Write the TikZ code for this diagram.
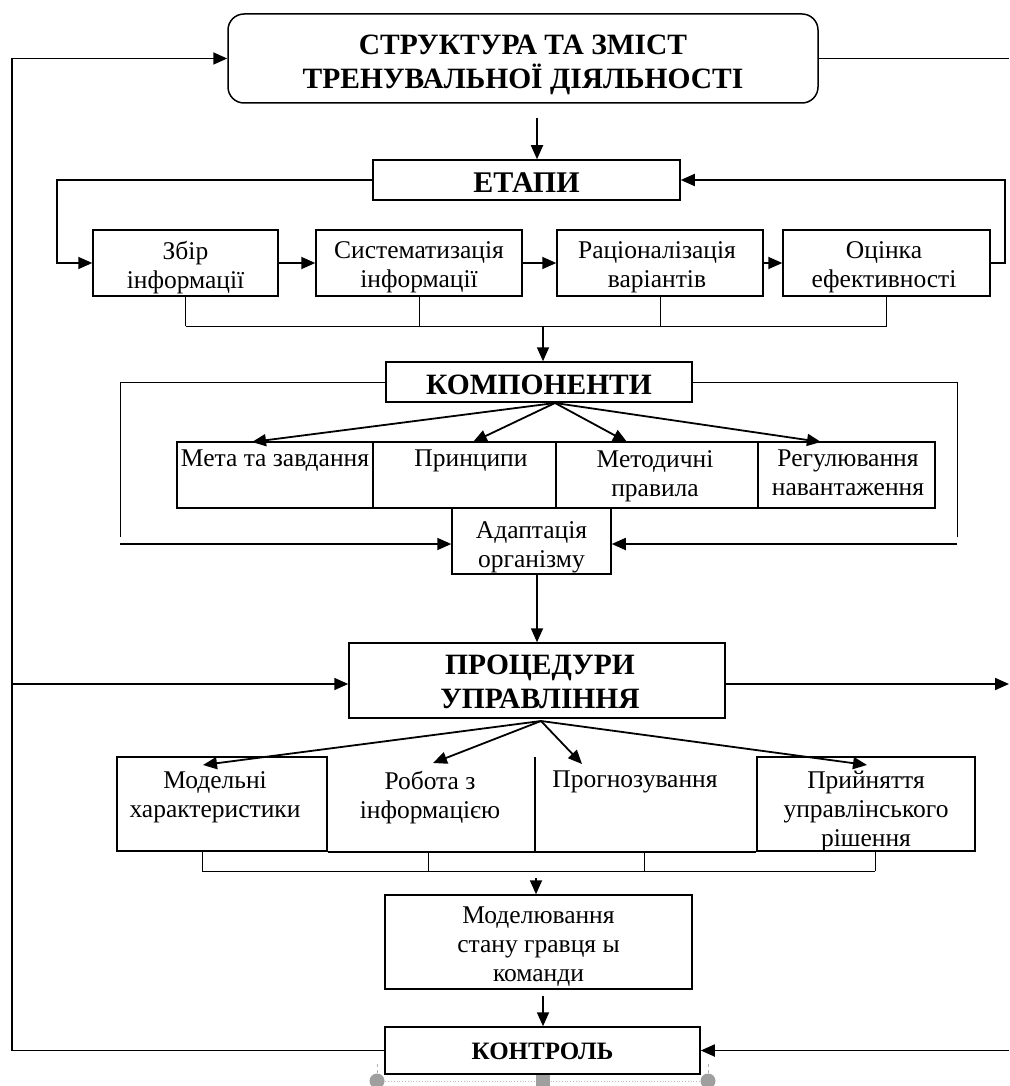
\documentclass[tikz,border=0pt]{standalone}
\usepackage{fontspec}
\setmainfont{Liberation Serif}
\usetikzlibrary{arrows.meta}
\begin{document}
\begin{tikzpicture}[x=1pt,y=-1pt,
  box/.style={draw, line width=1.5pt, inner sep=0pt},
  reg/.style={font=\fontsize{25.5}{29}\selectfont, align=center, inner sep=0pt},
  ttl/.style={font=\fontsize{29.5}{34}\selectfont\bfseries, align=center, inner sep=0pt},
  arr/.style={line width=1.8pt, -{Triangle[length=14pt,width=12pt]}},
  ln/.style={line width=1.5pt},
  bus/.style={line width=0.8pt},
  handle/.style={fill=gray!75, draw=none},
]
\useasboundingbox (0,0) rectangle (1009,1086);

% ---------- boxes ----------
\node[box, rounded corners=16pt, minimum width=590pt, minimum height=89pt] (top) at (523,58.5) {};
\node[ttl] (topT) at (523,65) {СТРУКТУРА ТА ЗМІСТ\\ТРЕНУВАЛЬНОЇ ДІЯЛЬНОСТІ};
\node[box, minimum width=307pt, minimum height=40pt] (etapy) at (526.5,180) {};
\node[ttl, font=\fontsize{30}{34}\selectfont\bfseries] (etapyT) at (526.5,183) {ЕТАПИ};

\node[box, minimum width=185pt, minimum height=66pt] (zbir) at (185.5,263) {};
\node[box, minimum width=206pt, minimum height=66pt] (syst) at (419,263) {};
\node[box, minimum width=206pt, minimum height=66pt] (rats) at (660,263) {};
\node[box, minimum width=207pt, minimum height=66pt] (otsin) at (886.5,263) {};
\node[reg] (zbirT) at (185.5,267.5) {Збір\\інформації};
\node[reg] (systT) at (419,267.5) {Систематизація\\інформації};
\node[reg] (ratsT) at (657,267.5) {Раціоналізація\\варіантів};
\node[reg] (otsinT) at (884,267.5) {Оцінка\\ефективності};

\node[box, minimum width=306pt, minimum height=40pt] (komp) at (539,382) {};
\node[ttl] (kompT) at (539,385) {КОМПОНЕНТИ};

\node[box, minimum width=196pt, minimum height=66pt] (meta) at (275,475) {};
\node[box, minimum width=183pt, minimum height=66pt] (prin) at (464.5,475) {};
\node[box, minimum width=202pt, minimum height=66pt] (metod) at (657,475) {};
\node[box, minimum width=177pt, minimum height=66pt] (regul) at (846.5,475) {};
\node[reg, anchor=north] (metaT) at (275,450) {Мета та завдання};
\node[reg, anchor=north] (prinT) at (471,450) {Принципи};
\node[reg, anchor=north] (metodT) at (655,450) {Методичні\\правила};
\node[reg, anchor=north] (regulT) at (848,450) {Регулювання\\навантаження};

\node[box, fill=white, minimum width=159pt, minimum height=66pt] (adapt) at (531.5,541) {};
\node[reg] (adaptT) at (531.5,547) {Адаптація\\організму};

\node[box, minimum width=376pt, minimum height=75pt] (proc) at (537,680.5) {};
\node[ttl] (procT) at (540,682) {ПРОЦЕДУРИ\\УПРАВЛІННЯ};

\node[box, minimum width=210pt, minimum height=94pt] (model) at (222,804) {};
\node[inner sep=0pt, minimum width=208pt, minimum height=94pt] (robota) at (431,804) {};
\node[inner sep=0pt, minimum width=222pt, minimum height=94pt] (prog) at (646,804) {};
\node[box, minimum width=218pt, minimum height=94pt] (pryin) at (866,804) {};
\draw[ln] (model.south east) -- (pryin.south west);
\draw[ln] (robota.north east) -- (robota.south east);
\node[reg, anchor=north] (modelT) at (215,771) {Модельні\\характеристики};
\node[reg, anchor=north] (robotaT) at (430,771) {Робота з\\інформацією};
\node[reg, anchor=north] (progT) at (635,771) {Прогнозування};
\node[reg, anchor=north] (pryinT) at (866,771) {Прийняття\\управлінського\\рішення};

\node[box, minimum width=307pt, minimum height=94pt] (mod) at (538.5,942) {};
\node[reg] (modT) at (538.5,946.5) {Моделювання\\стану гравця ы\\команди};
\node[box, minimum width=315pt, minimum height=47pt] (kontr) at (542.5,1050.5) {};
\node[ttl, font=\fontsize{25}{29}\selectfont\bfseries] (kontrT) at (542.5,1051) {КОНТРОЛЬ};

% ---------- coordinates ----------
\coordinate (lx) at (12,58.5);
\coordinate (rtop) at (1009,58.5);
\coordinate (t2e) at (537,118);
\coordinate (el) at (57,263);
\coordinate (er) at (1005,263);
\coordinate (bus1) at (543,326);
\coordinate (kl) at (120,537);
\coordinate (kr) at (957,537);
\coordinate (al) at (120,544);
\coordinate (ar) at (957,544);
\coordinate (kfan) at (555,403);
\coordinate (k1) at (252,442);
\coordinate (k2) at (473,442);
\coordinate (k3) at (627,442);
\coordinate (k4) at (821,442);
\coordinate (a2p) at (537,574);
\coordinate (lp) at (12,684);
\coordinate (rp) at (1009,684);
\coordinate (pfan) at (541,721);
\coordinate (p1) at (203,765);
\coordinate (p2) at (433,763);
\coordinate (p3) at (582,764);
\coordinate (p4) at (867,765);
\coordinate (pb1) at (202,871);
\coordinate (pb2) at (428,871);
\coordinate (pb3) at (644,871);
\coordinate (pb4) at (875,871);
\coordinate (m2) at (536,878);
\coordinate (m3) at (543,996);
\coordinate (rk) at (1009,1050.5);

% ---------- connectors ----------
\draw[arr] (kontr.west) -| (lx) -- (lx -| top.west);
\draw[ln] (top.east |- rtop) -- (rtop);
\draw[arr] (t2e) -- (t2e |- etapy.north);

\draw[arr] (etapy.west) -| (el) -- (zbir.west);
\draw[arr] (otsin.east) -- (er) |- (etapy.east);
\draw[arr] (zbir.east) -- (syst.west);
\draw[arr] (syst.east) -- (rats.west);
\draw[arr] (rats.east) -- (otsin.west);

\draw[bus] (zbir.south |- bus1) -- (otsin.south |- bus1);
\draw[bus] (zbir.south) -- (zbir.south |- bus1);
\draw[bus] (syst.south) -- (syst.south |- bus1);
\draw[bus] (rats.south) -- (rats.south |- bus1);
\draw[bus] (otsin.south) -- (otsin.south |- bus1);
\draw[arr] (bus1) -- (bus1 |- komp.north);

\draw[bus] (komp.west) -| (kl);
\draw[bus] (komp.east) -| (kr);
\draw[arr] (al) -- (al -| adapt.west);
\draw[arr] (ar) -- (ar -| adapt.east);

\draw[arr] (kfan) -- (k1);
\draw[arr] (kfan) -- (k2);
\draw[arr] (kfan) -- (k3);
\draw[arr] (kfan) -- (k4);

\draw[arr] (a2p) -- (a2p |- proc.north);
\draw[arr] (lp) -- (lp -| proc.west);
\draw[arr] (rp -| proc.east) -- (rp);

\draw[arr] (pfan) -- (p1);
\draw[arr] (pfan) -- (p2);
\draw[arr] (pfan) -- (p3);
\draw[arr] (pfan) -- (p4);

\draw[bus] (pb1) -- (pb4);
\draw[bus] (pb1 |- model.south) -- (pb1);
\draw[bus] (pb2 |- model.south) -- (pb2);
\draw[bus] (pb3 |- model.south) -- (pb3);
\draw[bus] (pb4 |- model.south) -- (pb4);
\draw[arr] (m2) -- (m2 |- mod.north);

\draw[arr] (m3) -- (m3 |- kontr.north);
\draw[arr] (rk) -- (kontr.east);

% ---------- selection handles ----------
\draw[gray!60, dashed, line width=0.6pt] (377,1064) -- (377,1076);
\draw[gray!60, dashed, line width=0.6pt] (708,1064) -- (708,1076);
\draw[gray!50, dotted, line width=0.8pt] (377,1081) -- (708,1081);
\fill[handle] (377,1081) circle (7.5);
\fill[handle] (708,1081) circle (7.5);
\fill[handle] (536,1075) rectangle (550,1086);
\end{tikzpicture}
\end{document}
